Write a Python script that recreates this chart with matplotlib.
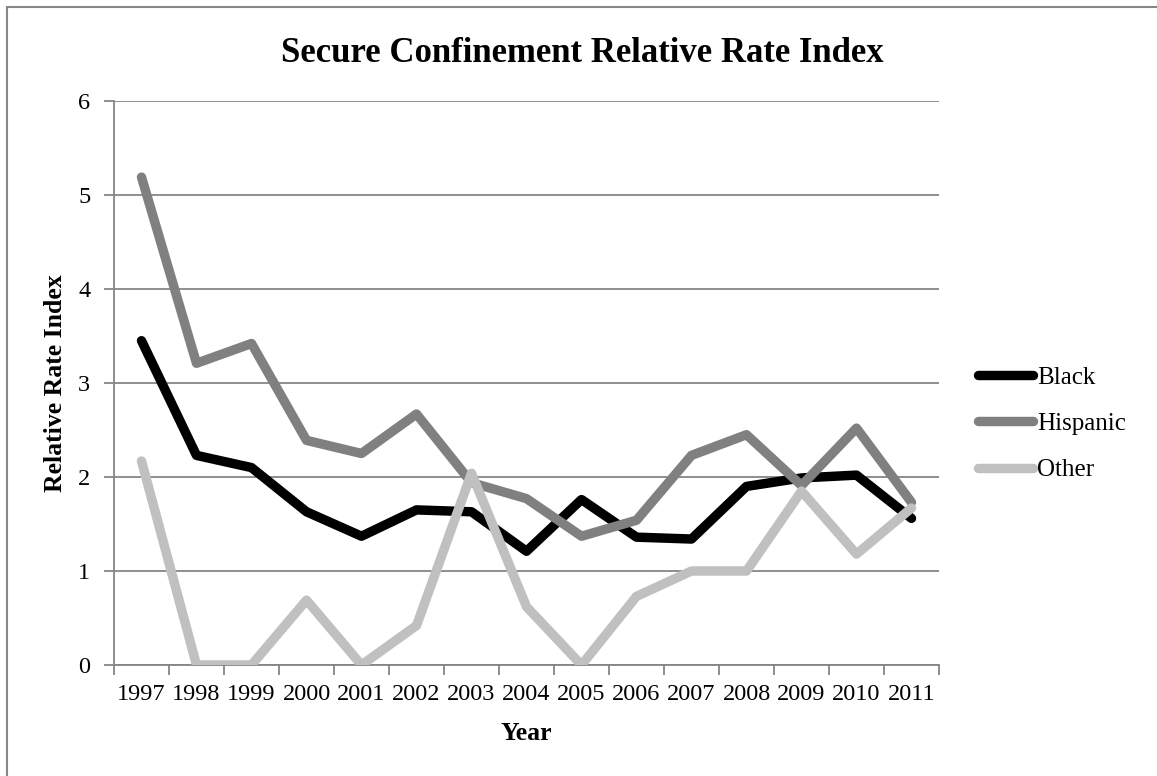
import matplotlib.pyplot as plt
from matplotlib.patches import Rectangle

years = ["1997", "1998", "1999", "2000", "2001", "2002", "2003", "2004",
         "2005", "2006", "2007", "2008", "2009", "2010", "2011"]
black = [3.45, 2.23, 2.10, 1.63, 1.37, 1.65, 1.63, 1.21, 1.76, 1.36, 1.34,
         1.90, 1.99, 2.02, 1.56]
hispanic = [5.19, 3.21, 3.42, 2.39, 2.25, 2.67, 1.94, 1.77, 1.37, 1.54, 2.23,
            2.45, 1.91, 2.52, 1.73]
other = [2.17, 0.0, 0.0, 0.69, 0.0, 0.42, 2.04, 0.62, 0.0, 0.73, 1.0, 1.0,
         1.85, 1.18, 1.67]

plt.rcParams['font.family'] = ['Liberation Serif', 'DejaVu Serif']

W, H = 1157, 776
fig = plt.figure(figsize=(W / 100, H / 100), dpi=100)
ax = fig.add_axes([114 / W, 1 - 665 / H, (939 - 114) / W, (665 - 101) / H])

grey = "#868686"
x = list(range(len(years)))
series = [("Black", black, "#000000"),
          ("Hispanic", hispanic, "#808080"),
          ("Other", other, "#c0c0c0")]
for name, vals, col in series:
    ax.plot(x, vals, color=col, lw=6.8, label=name,
            solid_capstyle="round", solid_joinstyle="round", zorder=3)

ax.set_xlim(-0.5, len(years) - 0.5)
ax.set_ylim(0, 6)
ax.set_yticks(range(7))
ax.yaxis.grid(True, color=grey, lw=1.3, zorder=0)
ax.set_axisbelow(True)

# category labels in the middle, tick marks on the boundaries
ax.set_xticks(x)
ax.set_xticklabels(years)
ax.set_xticks([i - 0.5 for i in range(len(years) + 1)], minor=True)
ax.tick_params(axis="x", which="major", length=0, pad=14, labelsize=17.5)
ax.tick_params(axis="x", which="minor", length=7, width=1.3, color=grey)
ax.tick_params(axis="y", length=7, width=1.3, color=grey, pad=10,
               labelsize=17.5)

for s in ["top", "right"]:
    ax.spines[s].set_visible(False)
for s in ["left", "bottom"]:
    ax.spines[s].set_color(grey)
    ax.spines[s].set_linewidth(1.3)

ax.set_xlabel("Year", fontsize=18.5, fontweight="bold", labelpad=12)
ax.set_ylabel("Relative Rate Index", fontsize=18.5, fontweight="bold",
              labelpad=8)
fig.text(582 / W, 1 - 53 / H, "Secure Confinement Relative Rate Index",
         ha="center", va="center", fontsize=25, fontweight="bold")

ax.legend(loc="center left", bbox_to_anchor=(968 / W, 1 - 424 / H),
          bbox_transform=fig.transFigure, frameon=False, fontsize=18,
          handlelength=2.2, handletextpad=0.15, labelspacing=0.95,
          borderaxespad=0)

# outer chart border
fig.patches.append(Rectangle((7 / W, -0.1), 1.2, 1 - 7 / H + 0.1,
                             transform=fig.transFigure, fill=False,
                             edgecolor=grey, lw=1.5))

fig.savefig("out.png", dpi=100)
